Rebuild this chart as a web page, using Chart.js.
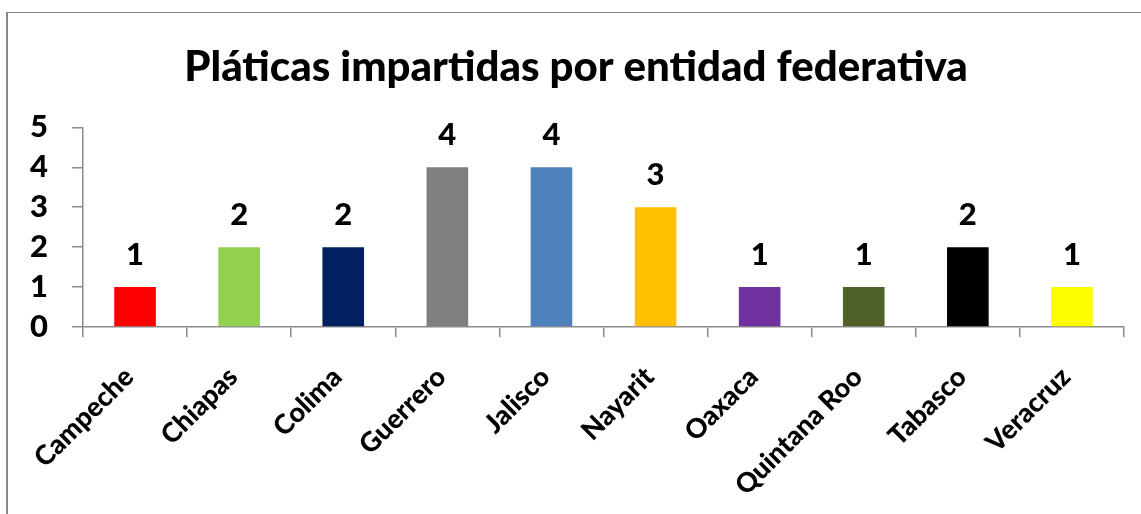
<!DOCTYPE html>
<html>
<head>
<meta charset="utf-8">
<script src="https://cdn.jsdelivr.net/npm/chart.js@4.4.1/dist/chart.umd.min.js"></script>
<style>
  html, body { margin: 0; padding: 0; background: #fff; }
  #wrap { position: relative; width: 1141px; height: 514px; overflow: hidden; }
  #frame { position: absolute; left: 6px; top: 12px; width: 2000px; height: 1000px;
           border-left: 2px solid #878787; border-top: 1px solid #878787; box-sizing: border-box; }
  canvas { position: absolute; left: 0; top: 0; }
</style>
</head>
<body>
<div id="wrap">
  <canvas id="c" width="1141" height="514"></canvas>
  <div id="frame"></div>
</div>
<script>
const titleText = "Pláticas impartidas por entidad federativa";
const categories = ["Campeche", "Chiapas", "Colima", "Guerrero", "Jalisco", "Nayarit", "Oaxaca", "Quintana Roo", "Tabasco", "Veracruz"];
const values = [1, 2, 2, 4, 4, 3, 1, 1, 2, 1];
const barColors = ["#FF0000", "#92D050", "#002060", "#7F7F7F", "#4F81BD", "#FFC000", "#7030A0", "#4F6228", "#000000", "#FFFF00"];
const yMin = 0, yMax = 5, yStep = 1;

const axisColor = "#8c8c8c";
const fam = "Lato, 'Open Sans', sans-serif";
const labelFont = { family: fam, weight: "900", size: 31 };

const valueLabels = {
  id: "valueLabels",
  afterDatasetsDraw(chart) {
    const ctx = chart.ctx;
    const meta = chart.getDatasetMeta(0);
    ctx.save();
    ctx.font = "900 31px " + fam;
    ctx.fillStyle = "#000";
    ctx.textAlign = "center";
    ctx.textBaseline = "alphabetic";
    meta.data.forEach((bar, i) => {
      ctx.fillText(String(chart.data.datasets[0].data[i]), bar.x, bar.y - 22);
    });
    ctx.restore();
  }
};

new Chart(document.getElementById("c"), {
  type: "bar",
  data: {
    labels: categories,
    datasets: [{
      data: values,
      backgroundColor: barColors,
      borderWidth: 0,
      barPercentage: 0.4,
      categoryPercentage: 1.0
    }]
  },
  options: {
    responsive: false,
    animation: false,
    events: [],
    layout: { padding: { left: 28, right: 17, top: 0, bottom: 0 } },
    plugins: {
      legend: { display: false },
      tooltip: { enabled: false },
      title: {
        display: true,
        text: titleText,
        color: "#000",
        font: { family: fam, weight: "900", size: 42, lineHeight: 1.2 },
        padding: { top: 42, bottom: 35 }
      }
    },
    scales: {
      x: {
        grid: { display: true, drawOnChartArea: false, drawTicks: true, tickLength: 10, color: axisColor, lineWidth: 1.5, offset: true },
        border: { display: true, color: axisColor, width: 1.5 },
        ticks: { maxRotation: 45, minRotation: 45, autoSkip: false, color: "#000", labelOffset: -6,
                 font: { family: fam, weight: "900", size: 27 }, padding: 24 },
        afterFit: (s) => { s.height = 187; }
      },
      y: {
        min: yMin, max: yMax,
        grid: { display: true, drawOnChartArea: false, drawTicks: true, tickLength: 11, color: axisColor, lineWidth: 1.5 },
        border: { display: true, color: axisColor, width: 1.5 },
        ticks: { color: "#000", font: labelFont, padding: 24, stepSize: yStep, autoSkip: false },
        afterFit: (s) => { s.width = 55; }
      }
    }
  },
  plugins: [valueLabels]
});
</script>
</body>
</html>
